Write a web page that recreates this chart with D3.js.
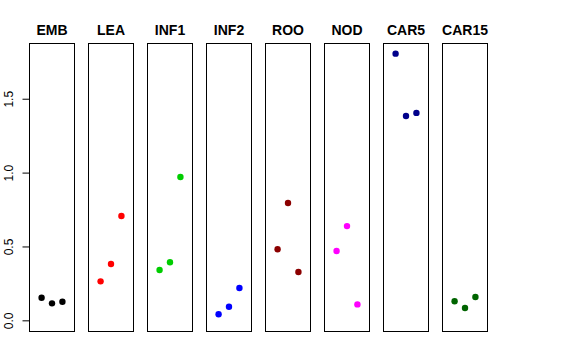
<!DOCTYPE html>
<html><head><meta charset="utf-8">
<script src="https://cdn.jsdelivr.net/npm/d3@7"></script>
<style>body{margin:0;background:#fff}svg{display:block}</style>
</head><body>
<svg id="chart" width="576" height="360"></svg>
<script>
const categories = ["EMB","LEA","INF1","INF2","ROO","NOD","CAR5","CAR15"];
const colors = ["#000000","#FF0000","#00CD00","#0000FF","#8B0000","#FF00FF","#00008B","#006400"];
const replicates = [1,2,3];
const values = [
  [0.153,0.115,0.126],
  [0.264,0.381,0.706],
  [0.341,0.393,0.970],
  [0.041,0.092,0.219],
  [0.481,0.794,0.327],
  [0.469,0.638,0.108],
  [1.805,1.383,1.404],
  [0.129,0.083,0.158]
];
const yTicks = [0,0.5,1.0,1.5];

const svg = d3.select("#chart");
const plotTop = 43, plotBottom = 331;
const yMax = d3.max(values.flat());
const ext = 0.04*yMax;
const y = d3.scaleLinear().domain([0-ext, yMax+ext]).range([plotBottom, plotTop]);
const xInner = d3.scaleLinear().domain([-0.16, 4.16]);

categories.forEach((c,i)=>{
  const x0 = 29 + 59*i;
  const w = 45;
  const g = svg.append("g");
  xInner.range([x0, x0+w]);
  g.append("rect").attr("x", x0+0.5).attr("y", plotTop+0.5).attr("width", w).attr("height", plotBottom-plotTop)
    .attr("fill","none").attr("stroke","#000").attr("stroke-width",1);
  g.append("text").attr("x", x0+w/2+0.5).attr("y", 34.5).attr("text-anchor","middle")
    .attr("font-family","Liberation Sans, Arial, sans-serif").attr("font-weight","bold").attr("font-size","14px")
    .text(c);
  g.selectAll("circle").data(values[i]).enter().append("circle")
    .attr("cx",(d,j)=>xInner(replicates[j])+0.5).attr("cy",d=>y(d)).attr("r",3.2)
    .attr("fill",colors[i]);
});

const axis = d3.axisLeft(y).tickValues(yTicks).tickFormat(d3.format(".1f")).tickSize(7).tickPadding(0);
const ag = svg.append("g").attr("transform","translate(29.5,0)").call(axis);
ag.select(".domain").remove();
ag.append("line").attr("x1",0).attr("x2",0).attr("y1",y(0)).attr("y2",y(1.5)).attr("stroke","#000");
ag.selectAll(".tick line").attr("stroke","#000");
ag.selectAll(".tick text").attr("fill","#000").attr("font-family","Liberation Sans, Arial, sans-serif").attr("font-size","12px")
  .attr("text-anchor","middle").attr("dy",0).attr("x",0)
  .attr("transform","translate(-17,0) rotate(-90)");
</script>
</body></html>
